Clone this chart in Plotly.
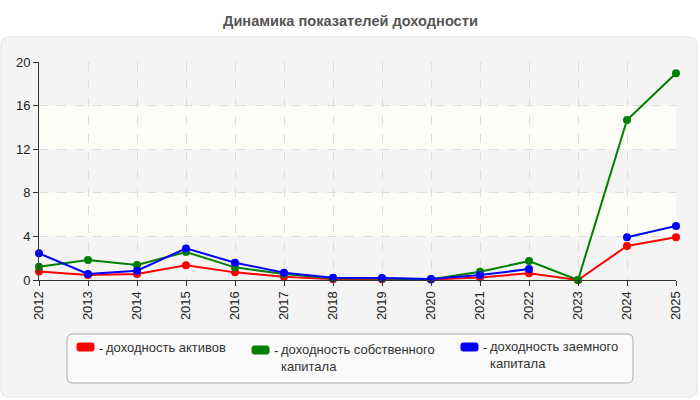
import plotly.graph_objects as go

years = list(range(2012, 2026))
roa = [0.78, 0.45, 0.55, 1.35, 0.70, 0.30, 0.08, 0.06, 0.05, 0.22, 0.62, 0.0, 3.12, 3.92]
roe = [1.22, 1.83, 1.38, 2.57, 1.16, 0.55, 0.15, 0.14, 0.06, 0.76, 1.74, 0.0, 14.68, 18.96]
rod = [2.45, 0.55, 0.85, 2.90, 1.59, 0.67, 0.20, 0.18, 0.09, 0.46, 1.00, None, 3.92, 4.95]

series_names = ["доходность активов", "доходность собственного<br>капитала", "доходность заемного<br>капитала"]
series_colors = ["#ff0000", "#008000", "#0000ff"]
series_values = [roa, roe, rod]
title_text = "Динамика показателей доходности"

y_ticks = [0, 4, 8, 12, 16, 20]

W, H = 700, 400
L, R, T, B = 39, 676, 62, 280
FONT = "Liberation Sans, Arial, sans-serif"


def px(x):
    return (x - L) / (R - L)


def py(y):
    return (B - y) / (B - T)


def rounded_path(x0, y0, x1, y1, r):
    pts = [
        f"M {px(x0 + r)},{py(y0)}",
        f"L {px(x1 - r)},{py(y0)}",
        f"Q {px(x1)},{py(y0)} {px(x1)},{py(y0 + r)}",
        f"L {px(x1)},{py(y1 - r)}",
        f"Q {px(x1)},{py(y1)} {px(x1 - r)},{py(y1)}",
        f"L {px(x0 + r)},{py(y1)}",
        f"Q {px(x0)},{py(y1)} {px(x0)},{py(y1 - r)}",
        f"L {px(x0)},{py(y0 + r)}",
        f"Q {px(x0)},{py(y0)} {px(x0 + r)},{py(y0)}",
        "Z",
    ]
    return " ".join(pts)


fig = go.Figure()
for name, col, vals in zip(series_names, series_colors, series_values):
    fig.add_trace(go.Scatter(
        x=years, y=vals, mode="lines+markers", name=name.replace("<br>", " "),
        line=dict(color=col, width=2),
        marker=dict(color=col, size=8),
        cliponaxis=False, connectgaps=False, showlegend=False,
    ))

shapes = []
# outer panel
shapes.append(dict(type="path", xref="paper", yref="paper", layer="below",
                   path=rounded_path(1, 37, 697, 397, 8),
                   fillcolor="#f4f4f4", line=dict(color="#e2e2e2", width=1)))
# alternating bands
for lo, hi in [(4, 8), (12, 16)]:
    shapes.append(dict(type="rect", xref="x", yref="y", layer="below",
                       x0=years[0], x1=years[-1], y0=lo, y1=hi,
                       fillcolor="#fdfdf7", line=dict(width=0)))
# legend box
shapes.append(dict(type="path", xref="paper", yref="paper", layer="below",
                   path=rounded_path(67, 334, 633, 383, 6),
                   fillcolor="#fafafa", line=dict(color="#aaaaaa", width=1)))

annotations = [dict(text=f"<b>{title_text}</b>", xref="paper", yref="paper",
                    x=px(350), y=py(21), xanchor="center", yanchor="middle",
                    showarrow=False, font=dict(family=FONT, size=14.6, color="#555555"))]

legend_pos = [  # symbol x0, symbol y center, text x, first line center y
    (77, 347, 106, 348),
    (252, 350, 281, 350),
    (461, 347, 490, 347),
]
for (sx, sy, tx, ty), name, col in zip(legend_pos, series_names, series_colors):
    shapes.append(dict(type="path", xref="paper", yref="paper", layer="above",
                       path=rounded_path(sx, sy - 4, sx + 17, sy + 4, 2),
                       fillcolor=col, line=dict(color=col, width=1)))
    annotations.append(dict(text="-", xref="paper", yref="paper",
                            x=px(sx + 20), y=py(ty), xanchor="left", yanchor="middle",
                            showarrow=False, font=dict(family=FONT, size=13, color="#333333")))
    annotations.append(dict(text=name, xref="paper", yref="paper",
                            x=px(tx - 1), y=py(ty - 9), xanchor="left", yanchor="top",
                            align="left", showarrow=False, borderpad=0,
                            font=dict(family=FONT, size=13, color="#333333")))

fig.update_layout(
    width=W, height=H,
    margin=dict(l=L, r=W - R, t=T, b=H - B),
    paper_bgcolor="#ffffff",
    plot_bgcolor="#fafafa",
    showlegend=False,
    shapes=shapes,
    annotations=annotations,
    font=dict(family=FONT, size=13, color="#222222"),
)
fig.update_xaxes(
    range=[years[0], years[-1]], tickmode="array", tickvals=years,
    ticktext=[str(y) for y in years], tickangle=-90,
    showline=True, linecolor="#333333", linewidth=1,
    ticks="outside", ticklen=5, tickcolor="#333333",
    showgrid=True, gridcolor="#dddddd", griddash="dash", gridwidth=1,
    zeroline=False, tickfont=dict(size=13, color="#222222"),
)
fig.update_yaxes(
    range=[0, 20], tickmode="array", tickvals=y_ticks,
    showline=True, linecolor="#333333", linewidth=1,
    ticks="outside", ticklen=5, tickcolor="#333333",
    showgrid=True, gridcolor="#dddddd", griddash="dash", gridwidth=1,
    zeroline=False, tickfont=dict(size=13, color="#222222"),
)

fig.write_html("out.html")
